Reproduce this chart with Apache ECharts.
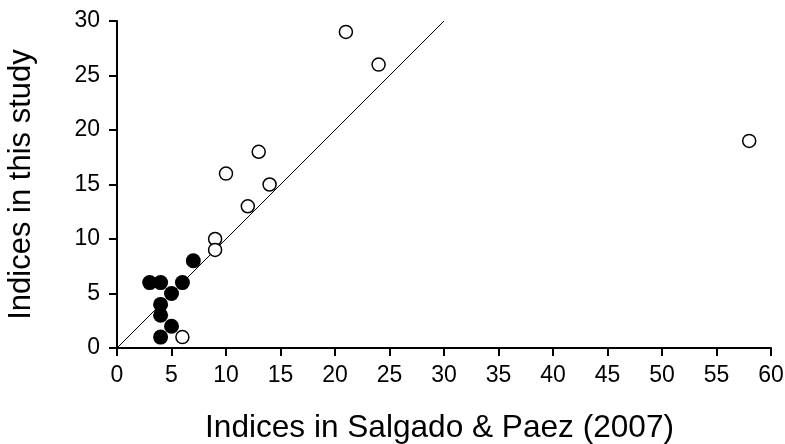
<!DOCTYPE html>
<html><head><meta charset="utf-8">
<script src="https://cdn.jsdelivr.net/npm/echarts@6/dist/echarts.min.js"></script>
<style>html,body{margin:0;padding:0;background:#fff}#c{width:785px;height:444px}</style>
</head><body><div id="c"></div>
<script>
const openX = [21, 24, 58, 13, 10, 14, 12, 9, 9, 6];
const openY = [29, 26, 19, 18, 16, 15, 13, 10, 9, 1];
const filledX = [7, 3, 4, 6, 5, 4, 4, 5, 4];
const filledY = [8, 6, 6, 6, 5, 4, 3, 2, 1];
const lineX = [0, 30];
const lineY = [0, 30];
const xTitle = 'Indices in Salgado & Paez (2007)';
const yTitle = 'Indices in this study';

const zip = (a, b) => a.map((v, i) => [v, b[i]]);
const font = 'Liberation Sans, Arial, sans-serif';
const chart = echarts.init(document.getElementById('c'));
chart.setOption({
  animation: false,
  grid: {left: 117, right: 14, top: 21, bottom: 96, outerBoundsMode: 'none', containLabel: false},
  xAxis: {
    type: 'value', min: 0, max: 60, interval: 5,
    name: xTitle, nameLocation: 'middle', nameGap: 64,
    nameTextStyle: {fontFamily: font, fontSize: 31.6, color: '#000', padding: [0, 9, 0, 0]},
    axisLine: {lineStyle: {color: '#000', width: 2}},
    axisTick: {length: 8, lineStyle: {color: '#000', width: 2}},
    axisLabel: {fontFamily: font, fontSize: 23, color: '#000', margin: 16},
    splitLine: {show: false}
  },
  yAxis: {
    type: 'value', min: 0, max: 30, interval: 5,
    name: yTitle, nameLocation: 'middle', nameGap: 80,
    nameTextStyle: {fontFamily: font, fontSize: 31, color: '#000'},
    axisLine: {show: true, lineStyle: {color: '#000', width: 2}},
    axisTick: {show: true, length: 8, lineStyle: {color: '#000', width: 2}},
    axisLabel: {fontFamily: font, fontSize: 23, color: '#000', margin: 17},
    splitLine: {show: false}
  },
  series: [
    {type: 'line', data: zip(lineX, lineY), symbol: 'none', lineStyle: {color: '#000', width: 1}, z: 1},
    {type: 'scatter', data: zip(openX, openY), symbol: 'circle', symbolSize: 13,
     itemStyle: {color: '#fff', borderColor: '#000', borderWidth: 1.5, opacity: 1}, z: 2},
    {type: 'scatter', data: zip(filledX, filledY), symbol: 'circle', symbolSize: 15,
     itemStyle: {color: '#000', opacity: 1}, z: 3}
  ]
});
</script></body></html>
